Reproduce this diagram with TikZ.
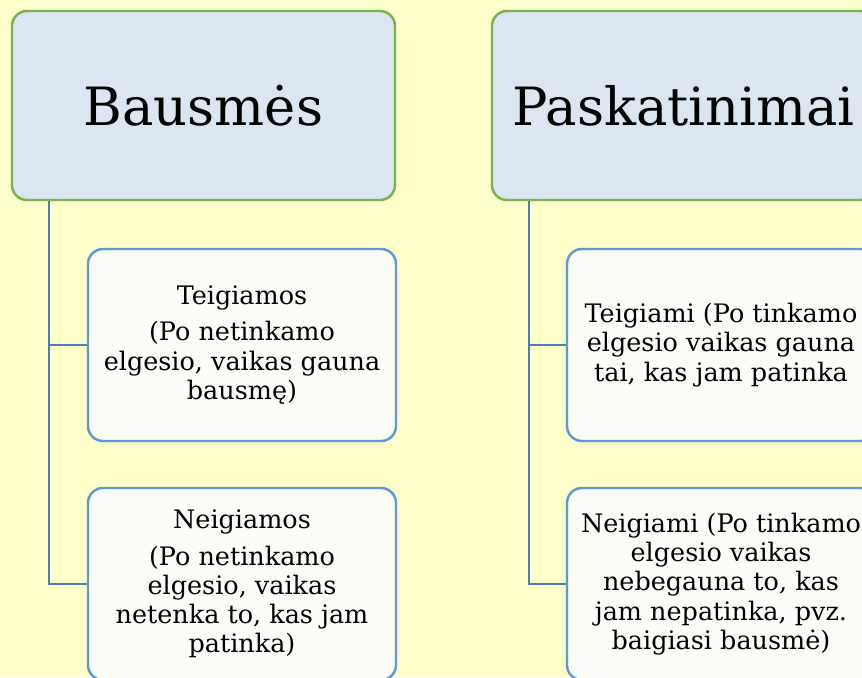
\documentclass[tikz,border=0pt]{standalone}
\usepackage{fontspec}
\setmainfont{DejaVu Serif}
\usepackage{xcolor}
\usetikzlibrary{positioning,calc}

\definecolor{bgyellow}{RGB}{255,255,204}
\definecolor{headfill}{RGB}{220,230,242}
\definecolor{headline}{RGB}{119,177,80}
\definecolor{boxfill}{RGB}{253,253,248}
\definecolor{boxline}{RGB}{91,155,213}
\definecolor{linkblue}{RGB}{74,126,187}

\tikzset{
    headbox/.style={draw=headline, fill=headfill, line width=1.4pt, rounded corners=0.3cm,
        minimum width=7.66cm, minimum height=3.78cm, font=\fontsize{30}{36}\selectfont},
    itembox/.style={draw=boxline, fill=boxfill, line width=1.4pt, rounded corners=0.3cm,
        minimum width=6.16cm, minimum height=3.84cm, align=center,
        font=\fontsize{14.5}{16.6}\selectfont},
    link/.style={draw=linkblue, line width=1.4pt}
}

\begin{document}
\begin{tikzpicture}
        % Background
        \fill[bgyellow] (0,0) rectangle (17.24,-13.54);
        \useasboundingbox (0,0) rectangle (17.24,-13.54);
        \clip (0,0) rectangle (17.24,-13.54);

        % Headers
        \node[headbox] (bausmes) at (4.07,-2.11) {Bausmės};
        \node[headbox] (paskat) at (13.67,-2.11) {Paskatinimai};

        % Left column
        \node[itembox] (teigiamos) at (4.84,-6.9) {Teigiamos\\[4pt](Po netinkamo\\elgesio, vaikas gauna\\bausmę)};
        \node[itembox] (neigiamos) at (4.84,-11.68) {Neigiamos\\[4pt](Po netinkamo\\elgesio, vaikas\\netenka to, kas jam\\patinka)};

        % Right column
        \node[itembox] (teigiami) at (14.42,-6.9) {Teigiami (Po tinkamo\\elgesio vaikas gauna\\tai, kas jam patinka};
        \node[itembox] (neigiami) at (14.42,-11.68) {Neigiami (Po tinkamo\\elgesio vaikas\\nebegauna to, kas\\jam nepatinka, pvz.\\baigiasi bausmė)};

        % Connectors
        \coordinate (lroot) at ($(bausmes.south west)+(0.76,0)$);
        \coordinate (rroot) at ($(paskat.south west)+(0.76,0)$);
        \draw[link] (lroot) |- (teigiamos.west);
        \draw[link] (lroot) |- (neigiamos.west);
        \draw[link] (rroot) |- (teigiami.west);
        \draw[link] (rroot) |- (neigiami.west);
    \end{tikzpicture}
\end{document}
